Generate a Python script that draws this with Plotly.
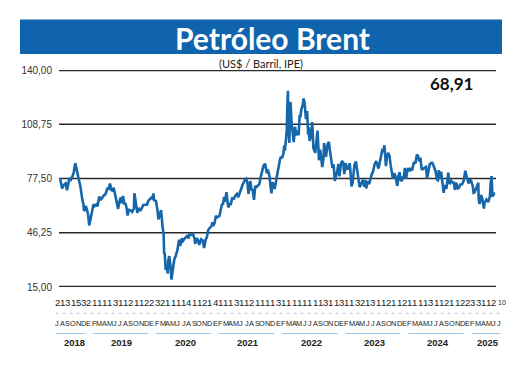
import plotly.graph_objects as go

# ---------------- data ----------------
dates = [
    "2018-07-02","2018-07-06","2018-07-12","2018-07-17","2018-07-24","2018-07-31","2018-08-07","2018-08-15",
    "2018-08-22","2018-08-30","2018-09-07","2018-09-14","2018-09-24","2018-10-03","2018-10-10","2018-10-17",
    "2018-10-26","2018-11-02","2018-11-13","2018-11-20","2018-11-23","2018-11-29","2018-12-03","2018-12-10",
    "2018-12-18","2018-12-24","2018-12-31",
    "2019-01-08","2019-01-18","2019-01-25","2019-02-04","2019-02-11","2019-02-21","2019-03-01","2019-03-12",
    "2019-03-21","2019-03-29","2019-04-10","2019-04-17","2019-04-25","2019-05-03","2019-05-10","2019-05-17",
    "2019-05-23","2019-05-31","2019-06-12","2019-06-20","2019-06-28","2019-07-04","2019-07-11","2019-07-19",
    "2019-07-25","2019-08-01","2019-08-07","2019-08-14","2019-08-23","2019-09-03","2019-09-13","2019-09-16",
    "2019-09-24","2019-10-03","2019-10-11","2019-10-21","2019-10-30","2019-11-07","2019-11-20","2019-11-29",
    "2019-12-06","2019-12-13","2019-12-23","2019-12-31",
    "2020-01-06","2020-01-10","2020-01-21","2020-01-31","2020-02-04","2020-02-14","2020-02-20","2020-02-28",
    "2020-03-06","2020-03-09","2020-03-13","2020-03-18","2020-03-24","2020-03-30","2020-04-02","2020-04-08",
    "2020-04-15","2020-04-21","2020-04-24","2020-04-30","2020-05-08","2020-05-15","2020-05-26","2020-06-05",
    "2020-06-11","2020-06-22","2020-06-29","2020-07-10","2020-07-22","2020-07-30","2020-08-05","2020-08-13",
    "2020-08-26","2020-09-04","2020-09-08","2020-09-18","2020-09-25","2020-10-02","2020-10-13","2020-10-23",
    "2020-10-30","2020-11-09","2020-11-16","2020-11-24","2020-12-04","2020-12-14","2020-12-18","2020-12-22",
    "2020-12-31",
    "2021-01-08","2021-01-15","2021-01-22","2021-01-29","2021-02-05","2021-02-12","2021-02-19","2021-02-25",
    "2021-03-03","2021-03-08","2021-03-11","2021-03-18","2021-03-23","2021-03-31","2021-04-05","2021-04-14",
    "2021-04-22","2021-04-30","2021-05-11","2021-05-19","2021-05-28","2021-06-04","2021-06-14","2021-06-25",
    "2021-07-05","2021-07-12","2021-07-19","2021-07-29","2021-08-05","2021-08-13","2021-08-20","2021-08-27",
    "2021-09-03","2021-09-14","2021-09-21","2021-09-28","2021-10-06","2021-10-15","2021-10-25","2021-11-04",
    "2021-11-10","2021-11-19","2021-11-26","2021-12-01","2021-12-07","2021-12-14","2021-12-20","2021-12-31",
    "2022-01-07","2022-01-12","2022-01-20","2022-01-26","2022-02-01","2022-02-09","2022-02-14","2022-02-18",
    "2022-02-24","2022-03-01","2022-03-04","2022-03-08","2022-03-10","2022-03-16","2022-03-21","2022-03-23",
    "2022-03-29","2022-04-06","2022-04-11","2022-04-19","2022-04-25","2022-05-03","2022-05-10","2022-05-16",
    "2022-05-20","2022-05-26","2022-06-03","2022-06-08","2022-06-14","2022-06-22","2022-06-29","2022-07-05",
    "2022-07-08","2022-07-14","2022-07-22","2022-07-29","2022-08-05","2022-08-16","2022-08-23","2022-08-29",
    "2022-09-07","2022-09-14","2022-09-26","2022-10-03","2022-10-07","2022-10-18","2022-10-27","2022-11-04",
    "2022-11-10","2022-11-18","2022-11-25","2022-12-02","2022-12-09","2022-12-16","2022-12-22","2022-12-30",
    "2023-01-05","2023-01-13","2023-01-20","2023-01-27","2023-02-03","2023-02-10","2023-02-17","2023-02-24",
    "2023-03-06","2023-03-10","2023-03-17","2023-03-24","2023-03-31","2023-04-03","2023-04-12","2023-04-21",
    "2023-05-04","2023-05-12","2023-05-23","2023-05-31","2023-06-05","2023-06-12","2023-06-20","2023-06-29",
    "2023-07-07","2023-07-14","2023-07-21","2023-07-31","2023-08-10","2023-08-23","2023-08-31","2023-09-07",
    "2023-09-14","2023-09-21","2023-09-27","2023-10-06","2023-10-13","2023-10-20","2023-10-27","2023-11-03",
    "2023-11-09","2023-11-16","2023-11-24","2023-12-01","2023-12-12","2023-12-19","2023-12-26","2023-12-29",
    "2024-01-08","2024-01-12","2024-01-19","2024-01-26","2024-02-02","2024-02-09","2024-02-16","2024-02-23",
    "2024-02-29","2024-03-08","2024-03-18","2024-03-27","2024-04-05","2024-04-12","2024-04-19","2024-04-26",
    "2024-05-03","2024-05-10","2024-05-20","2024-05-29","2024-06-04","2024-06-12","2024-06-20","2024-06-28",
    "2024-07-05","2024-07-12","2024-07-19","2024-07-24","2024-08-02","2024-08-07","2024-08-12","2024-08-20",
    "2024-08-26","2024-09-04","2024-09-10","2024-09-17","2024-09-26","2024-10-03","2024-10-07","2024-10-15",
    "2024-10-25","2024-11-04","2024-11-07","2024-11-15","2024-11-22","2024-12-02","2024-12-09","2024-12-16",
    "2024-12-27",
    "2025-01-06","2025-01-10","2025-01-15","2025-01-22","2025-01-28","2025-02-05","2025-02-11","2025-02-19",
    "2025-02-28","2025-03-05","2025-03-11","2025-03-21","2025-04-02","2025-04-04","2025-04-09","2025-04-18",
    "2025-04-24","2025-05-05","2025-05-09","2025-05-15","2025-05-20","2025-05-30","2025-06-02","2025-06-09",
    "2025-06-13","2025-06-19","2025-06-24","2025-06-27","2025-07-03","2025-07-10",
]
prices = [
    77.3, 77.1, 74.4, 71.8, 73.4, 74.3, 74.6, 70.8,
    74.8, 77.8, 76.8, 78.1, 81.2, 86.3, 83.1, 80.1,
    77.6, 72.8, 65.5, 62.5, 58.8, 59.5, 61.7, 59.9,
    56.3, 50.5, 53.8,
    58.7, 62.7, 61.6, 62.5, 61.5, 67.1, 65.1, 66.7,
    67.9, 68.4, 71.7, 71.6, 74.6, 70.9, 70.6, 72.2,
    68.8, 64.5, 60.0, 64.4, 66.6, 63.3, 67.5, 62.5,
    63.4, 60.5, 56.2, 59.5, 59.3, 58.3, 60.2, 69.0,
    63.1, 57.7, 60.5, 58.9, 60.6, 62.3, 62.4, 62.4,
    64.4, 65.2, 66.4, 66.0,
    68.9, 65.0, 64.6, 58.2, 54.0, 57.3, 59.3, 50.5,
    45.3, 34.4, 33.9, 24.9, 27.2, 22.8, 29.9, 32.8,
    27.7, 19.3, 21.4, 25.3, 31.0, 32.5, 36.2, 42.3,
    38.6, 43.1, 41.7, 43.2, 44.3, 43.0, 45.2, 45.0,
    45.6, 42.7, 39.8, 43.2, 41.9, 39.3, 42.5, 41.8,
    37.5, 42.4, 43.8, 48.0, 49.3, 50.3, 52.3, 50.1,
    51.8,
    56.0, 55.1, 55.4, 55.9, 59.3, 62.4, 62.9, 66.9,
    64.1, 68.2, 69.6, 63.3, 60.8, 63.5, 62.2, 66.6,
    65.4, 67.3, 68.6, 66.7, 69.6, 71.9, 73.9, 76.2,
    77.2, 75.2, 68.6, 76.1, 71.3, 70.6, 65.2, 72.7,
    72.6, 73.6, 74.4, 78.1, 81.1, 84.9, 86.0, 80.5,
    82.6, 78.9, 72.7, 68.9, 75.4, 73.7, 71.5, 77.8,
    81.8, 84.7, 88.4, 90.0, 89.2, 91.6, 96.5, 93.5,
    99.1, 105.0, 118.1, 128.0, 109.3, 98.0, 115.6, 121.6,
    110.2, 101.1, 98.5, 107.3, 102.3, 105.0, 102.5, 114.2,
    112.6, 117.4, 119.7, 123.6, 121.2, 111.7, 116.3, 102.8,
    107.0, 99.1, 103.2, 110.0, 94.9, 92.3, 100.2, 105.1,
    88.0, 94.1, 84.1, 88.9, 97.9, 90.0, 97.0, 98.6,
    93.7, 87.6, 83.6, 85.6, 76.1, 79.0, 81.0, 85.9,
    78.7, 85.3, 87.6, 86.7, 80.0, 86.4, 83.0, 83.2,
    86.2, 82.8, 73.0, 75.0, 79.8, 84.9, 87.3, 81.7,
    72.5, 74.2, 76.8, 72.7, 76.7, 71.8, 76.0, 74.3,
    78.5, 79.9, 81.1, 85.6, 87.5, 83.2, 86.9, 89.9,
    93.7, 93.3, 96.6, 84.6, 90.9, 92.2, 90.5, 84.9,
    80.0, 77.4, 80.6, 78.9, 73.2, 79.2, 81.1, 77.0,
    76.1, 78.3, 78.6, 83.6, 77.3, 82.2, 83.5, 81.6,
    83.6, 82.1, 86.9, 86.1, 91.2, 90.5, 87.3, 89.5,
    83.0, 82.8, 83.7, 84.2, 77.5, 82.6, 85.7, 86.4,
    86.5, 85.0, 82.6, 81.7, 76.8, 76.5, 82.3, 77.2,
    81.4, 72.7, 69.2, 73.7, 71.6, 77.6, 80.9, 74.3,
    76.1, 75.1, 75.6, 71.0, 75.2, 71.8, 72.1, 74.0,
    74.2,
    76.3, 79.8, 82.0, 79.0, 77.5, 74.6, 77.0, 76.0,
    73.2, 69.3, 69.6, 72.2, 75.0, 65.6, 62.8, 68.0,
    66.5, 60.2, 63.9, 64.5, 65.4, 63.9, 64.6, 67.0,
    74.2, 78.9, 67.1, 67.8, 68.8, 68.91,
]
y_ticks = [15.0, 46.25, 77.5, 108.75, 140.0]
last_value_label = "68,91"
title_text = "Petróleo Brent"
subtitle_text = "(US$ / Barril, IPE)"
month_letters = list("JASOND") + list("EFMAMJJASOND") * 6 + list("EFMAMJJ")
day_labels = (
    ["2", "1", "3", "1", "5", "3"]
    + ["2", "1", "1", "1", "1", "3", "1", "1", "2", "1", "1", "2"]
    + ["2", "3", "2", "1", "1", "1", "1", "4", "1", "1", "2", "1"]
    + ["4", "1", "1", "1", "3", "1", "1", "2", "1", "1", "1", "1"]
    + ["3", "1", "1", "1", "1", "1", "1", "1", "1", "3", "1", "1"]
    + ["3", "1", "1", "3", "2", "1", "3", "1", "1", "2", "1", "1"]
    + ["2", "1", "1", "1", "1", "3", "1", "1", "2", "1", "1", "2"]
    + ["2", "3", "3", "1", "1", "2", "10"]
)
years = ["2018", "2019", "2020", "2021", "2022", "2023", "2024", "2025"]
year_first_month = [0, 6, 18, 30, 42, 54, 66, 78]
year_last_month = [5, 17, 29, 41, 53, 65, 77, 84]

# ---------------- layout helpers (pixels -> paper) ----------------
W, H = 520, 371
ML, MR, MT, MB = 59, 24, 70, 84
PW, PH = W - ML - MR, H - MT - MB


def px(xp):
    return (xp - ML) / PW


def py(yp):
    return (H - MB - yp) / PH


def month_x(i):
    return px(57.3 + i * 5.26)


BLUE = "#0f64ad"
LINE = "#1566ab"
SMALL = "Liberation Sans, Arial, sans-serif"

fig = go.Figure()
fig.add_trace(go.Scatter(x=dates, y=prices, mode="lines",
                         line=dict(color=LINE, width=2.6), hoverinfo="skip",
                         showlegend=False))

shapes = []
# banner
shapes.append(dict(type="rect", xref="paper", yref="paper",
                   x0=px(20), x1=px(502), y0=py(54), y1=py(19.5),
                   fillcolor=BLUE, line=dict(width=0), layer="below"))
# horizontal rules
for v in y_ticks:
    edge = v in (y_ticks[0], y_ticks[-1])
    shapes.append(dict(type="line", xref="paper", yref="y", x0=0, x1=1, y0=v, y1=v,
                       line=dict(color="#2a2a2a", width=2.6 if edge else 1.5),
                       layer="below"))
# dashed strip line
shapes.append(dict(type="line", xref="paper", yref="paper", x0=month_x(0) - 0.004,
                   x1=month_x(84) + 0.006, y0=py(313.3), y1=py(313.3),
                   line=dict(color="#a9c9e4", width=1, dash="3px,4px")))
# year underlines
for f, l in zip(year_first_month, year_last_month):
    a = f if f == 0 else f + 1
    shapes.append(dict(type="line", xref="paper", yref="paper",
                       x0=month_x(a) - 0.003, x1=month_x(l) + 0.003,
                       y0=py(333.5), y1=py(333.5),
                       line=dict(color="#9cc4e6", width=1)))

ann = []
ann.append(dict(text="<b>" + title_text + "</b>", xref="paper", yref="paper",
                x=px(272), y=py(37.5), showarrow=False, xanchor="center", yanchor="middle",
                font=dict(family="Lato, Open Sans, sans-serif", size=30, color="white")))
ann.append(dict(text=subtitle_text, xref="paper", yref="paper",
                x=px(261), y=py(63.5), showarrow=False, xanchor="center", yanchor="middle",
                font=dict(family="Lato, sans-serif", size=11, color="#222")))
ann.append(dict(text="<b>" + last_value_label + "</b>", xref="paper", yref="paper",
                x=px(451), y=py(83.5), showarrow=False, xanchor="center", yanchor="middle",
                font=dict(family="Lato, sans-serif", size=17, color="#111")))
for i, (d, m) in enumerate(zip(day_labels, month_letters)):
    last = i == len(day_labels) - 1
    ann.append(dict(text=d, xref="paper", yref="paper",
                    x=px(496.0) if last else month_x(i), y=py(302),
                    showarrow=False, xanchor="left" if last else "center", yanchor="middle",
                    font=dict(family=SMALL, size=7 if last else 9.5, color="#222")))
    ann.append(dict(text=m, xref="paper", yref="paper", x=month_x(i), y=py(323.5),
                    showarrow=False, xanchor="center", yanchor="middle",
                    font=dict(family=SMALL, size=7.3, color="#222")))
for yr, f, l in zip(years, year_first_month, year_last_month):
    c = (f + l) / 2 + 0.8
    ann.append(dict(text="<b>" + yr + "</b>", xref="paper", yref="paper",
                    x=px(57.3 + c * 5.26), y=py(342.5), showarrow=False,
                    xanchor="center", yanchor="middle",
                    font=dict(family=SMALL, size=9.5, color="#222")))

fig.update_layout(
    width=W, height=H,
    margin=dict(l=ML, r=MR, t=MT, b=MB, pad=0),
    paper_bgcolor="white", plot_bgcolor="white",
    separators=",.",
    shapes=shapes, annotations=ann,
    xaxis=dict(type="date", range=["2018-06-29", "2025-07-15"], visible=False,
               showgrid=False, zeroline=False, fixedrange=True),
    yaxis=dict(range=[y_ticks[0], y_ticks[-1]], tickvals=y_ticks, tickformat=".2f",
               showgrid=False, zeroline=False, showline=False, ticks="",
               ticklabelstandoff=6,
               tickfont=dict(family="Liberation Sans, Arial, sans-serif", size=10, color="#333"),
               fixedrange=True),
    showlegend=False,
)

fig.write_html("out.html", config={"displayModeBar": False},
               post_script="document.body.style.margin='0';document.body.style.overflow='hidden';")
